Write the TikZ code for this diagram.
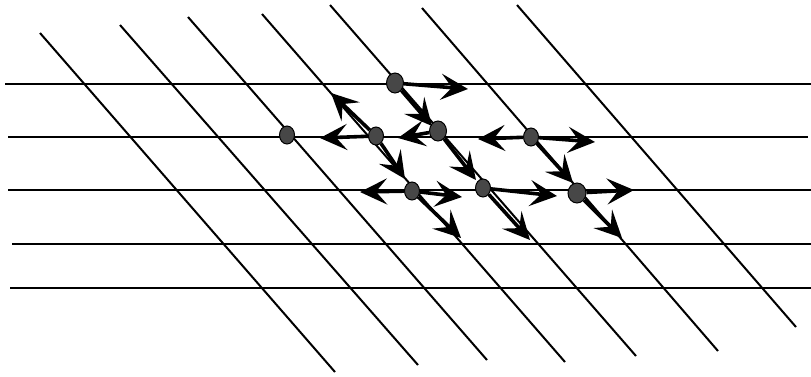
\documentclass[tikz,border=0pt]{standalone}
\usepackage{tikz}
\usetikzlibrary{arrows.meta, shapes.geometric}
\tikzset{
  lat line/.style={
    draw=black, line width=2pt
  },
  site dot/.style={
    ellipse, draw=black, fill=black!72, line width=1pt,
    minimum width=15pt, minimum height=18pt, inner sep=0pt
  },
  hop arrow/.style={
    -{Stealth[length=27pt, width=26pt, inset=11pt]}, line width=3.6pt, draw=black
  }
}

\begin{document}
\begin{tikzpicture}[x=1pt, y=-1pt]
  \useasboundingbox (0,0) rectangle (811,376);

  \foreach \xa/\xb/\y in {5/811/84, 8/808/137, 8/811/190, 12/811/244, 10/811/288}
    \draw [lat line] (\xa,\y) -- (\xb,\y);
  \foreach \xa/\ya/\xb/\yb in {40/33/335/372, 120/25/418/365, 188/17/487/360,
      262/14/565/362, 330/5/636/356, 422/8/718/351, 517/5/796/327}
    \draw [lat line] (\xa,\ya) -- (\xb,\yb);

  \node (a) [site dot, minimum width=17pt, minimum height=20pt] at (395,83) {};
  \node (b) [site dot, minimum width=17pt, minimum height=20pt] at (438,131) {};
  \node (c) [site dot] at (376,136) {};
  \node (e) [site dot] at (287,135) {};
  \node (g) [site dot] at (531,137) {};
  \node (d) [site dot] at (412,191) {};
  \node (f) [site dot] at (483,188) {};
  \node (h) [site dot, minimum width=18pt, minimum height=20pt] at (577,193) {};

  \coordinate (a right) at (468,89);
  \coordinate (a down) at (432,126);
  \coordinate (c up) at (331,93);
  \coordinate (c left) at (320,138);
  \coordinate (c down) at (405,179);
  \coordinate (b left) at (398,138);
  \coordinate (b down) at (476,180);
  \coordinate (g left) at (478,139);
  \coordinate (g right) at (595,142);
  \coordinate (g down) at (573,183);
  \coordinate (d left) at (360,192);
  \coordinate (d right) at (462,197);
  \coordinate (d down) at (461,238);
  \coordinate (f right) at (557,196);
  \coordinate (f down) at (530,240);
  \coordinate (h right) at (634,190);
  \coordinate (h down) at (622,238);

  \draw [hop arrow] (a) -- (a right);
  \draw [hop arrow] (a) -- (a down);
  \draw [hop arrow] (c) -- (c up);
  \draw [hop arrow] (c) -- (c left);
  \draw [hop arrow] (c) -- (c down);
  \draw [hop arrow] (b) -- (b left);
  \draw [hop arrow] (b) -- (b down);
  \draw [hop arrow] (g) -- (g left);
  \draw [hop arrow] (g) -- (g right);
  \draw [hop arrow] (g) -- (g down);
  \draw [hop arrow] (d) -- (d left);
  \draw [hop arrow] (d) -- (d right);
  \draw [hop arrow] (d) -- (d down);
  \draw [hop arrow] (f) -- (f right);
  \draw [hop arrow] (f) -- (f down);
  \draw [hop arrow] (h) -- (h right);
  \draw [hop arrow] (h) -- (h down);
\end{tikzpicture}
\end{document}
